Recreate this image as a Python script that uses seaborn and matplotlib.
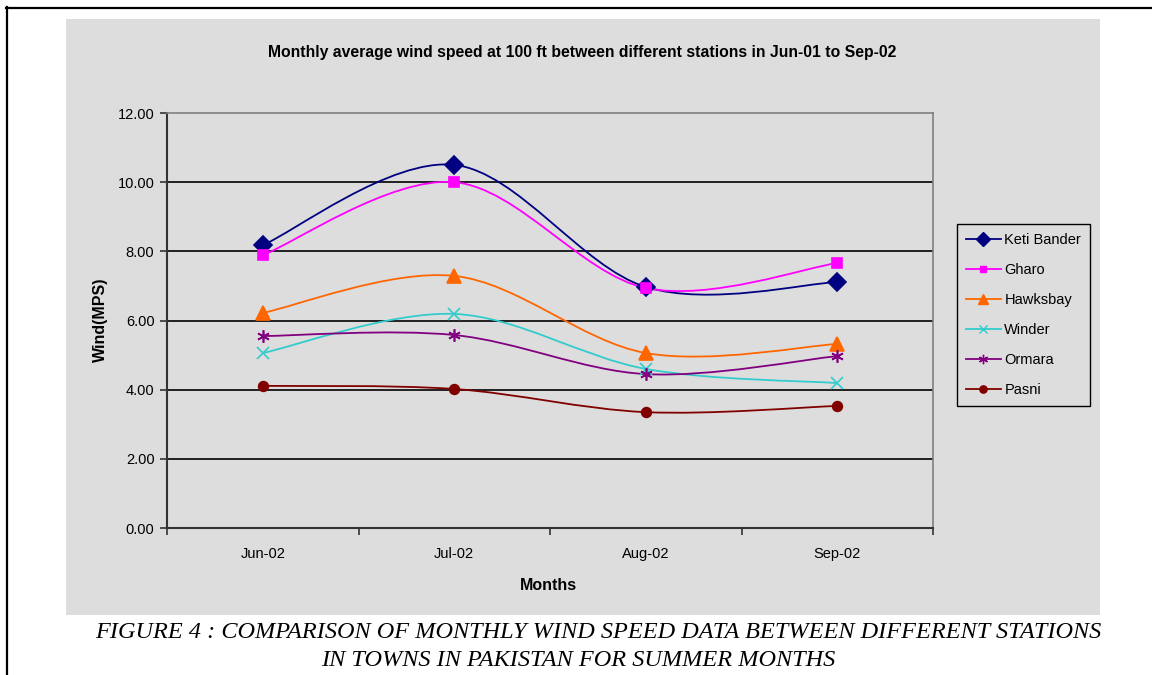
import matplotlib
matplotlib.use("Agg")
import matplotlib.pyplot as plt
from matplotlib.path import Path
from matplotlib.patches import PathPatch, Rectangle
from matplotlib.lines import Line2D
import seaborn as sns
import pandas as pd
import numpy as np

months = ["Jun-02", "Jul-02", "Aug-02", "Sep-02"]
keti_bander = [8.18, 10.50, 6.97, 7.11]
gharo = [7.89, 10.00, 6.94, 7.66]
hawksbay = [6.22, 7.29, 5.06, 5.32]
winder = [5.06, 6.19, 4.60, 4.19]
ormara = [5.55, 5.58, 4.45, 4.97]
pasni = [4.11, 4.02, 3.35, 3.53]
stations = ["Keti Bander", "Gharo", "Hawksbay", "Winder", "Ormara", "Pasni"]
yticks = [0, 2, 4, 6, 8, 10, 12]

series = [keti_bander, gharo, hawksbay, winder, ormara, pasni]
colors = ["#000080", "#FF00FF", "#FF6600", "#33CCCC", "#800080", "#800000"]
markers = ["D", "s", "^", "x", (6, 2, 0), "o"]
msizes = [9.5, 6.5, 10, 8.5, 9, 7]

rows = []
for name, vals in zip(stations, series):
    for i, (m, v) in enumerate(zip(months, vals)):
        rows.append({"Station": name, "Month": m, "pos": i, "Wind": v})
df = pd.DataFrame(rows)

W, H = 1152, 675
fig = plt.figure(figsize=(W / 100, H / 100), dpi=100)
fig.patch.set_facecolor("white")

# grey chart area
fig.add_artist(Rectangle((66 / W, 1 - 615 / H), (1100 - 66) / W, (615 - 19) / H,
                         transform=fig.transFigure, facecolor="#DDDDDD",
                         edgecolor="none", zorder=0))
# page frame lines
fig.add_artist(Line2D([6 / W, 1.0], [1 - 7.5 / H, 1 - 7.5 / H], transform=fig.transFigure,
                      color="black", lw=1.6))
fig.add_artist(Line2D([6.5 / W, 6.5 / W], [1 - 7 / H, 0], transform=fig.transFigure,
                      color="black", lw=1.6))

ax = fig.add_axes([167 / W, 1 - 528 / H, (933 - 167) / W, (528 - 113) / H])
ax.set_facecolor("#DDDDDD")
ax.set_xlim(-0.5, 3.5)
ax.set_ylim(0, 12)

for yv in yticks[1:-1]:
    ax.axhline(yv, color="black", lw=1.2, zorder=1)

def smooth_path(xs, ys):
    pts = np.column_stack([xs, ys]).astype(float)
    n = len(pts)
    verts = [pts[0]]
    codes = [Path.MOVETO]
    for i in range(n - 1):
        p0 = pts[i - 1] if i > 0 else pts[i]
        p1 = pts[i]
        p2 = pts[i + 1]
        p3 = pts[i + 2] if i + 2 < n else pts[i + 1]
        c1 = p1 + (p2 - p0) / 6.0
        c2 = p2 - (p3 - p1) / 6.0
        verts += [c1, c2, p2]
        codes += [Path.CURVE4] * 3
    return Path(verts, codes)

handles = []
for name, vals, c, mk, ms in zip(stations, series, colors, markers, msizes):
    sub = df[df["Station"] == name]
    ax.add_patch(PathPatch(smooth_path(sub["pos"].values, sub["Wind"].values),
                           facecolor="none", edgecolor=c, lw=1.3, zorder=3))
    sns.lineplot(data=sub, x="pos", y="Wind", ax=ax, color=c, marker=mk,
                 markersize=ms, linestyle="", markeredgecolor=c,
                 markeredgewidth=1.2, legend=False, zorder=4)
    handles.append(Line2D([0], [0], color=c, lw=1.3, marker=mk,
                          markersize=ms * 0.75, markeredgecolor=c,
                          markeredgewidth=1.0, label=name))

ax.set_xticks(range(len(months)))
ax.set_xticklabels(months)
ax.set_xticks([-0.5, 0.5, 1.5, 2.5, 3.5], minor=True)
ax.tick_params(axis="x", which="major", length=0, pad=14, labelsize=10.5)
ax.tick_params(axis="x", which="minor", length=5, width=1.2, color="#333333", direction="out")
ax.set_yticks(yticks)
ax.set_yticklabels([f"{v:.2f}" for v in yticks])
ax.tick_params(axis="y", length=5, width=1.2, color="#333333", direction="out", labelsize=10.5, pad=4)
for t in ax.get_xticklabels() + ax.get_yticklabels():
    t.set_fontfamily("Liberation Sans")

for s in ["left", "bottom"]:
    ax.spines[s].set_color("#333333")
    ax.spines[s].set_linewidth(1.5)
for s in ["top", "right"]:
    ax.spines[s].set_color("#808080")
    ax.spines[s].set_linewidth(1.2)
ax.set_xlabel("")
ax.set_ylabel("")

fig.text(582 / W, 1 - 53 / H,
         "Monthly average wind speed at 100 ft between different stations in Jun-01 to Sep-02",
         ha="center", va="center", fontsize=11.3, fontweight="bold", family="Liberation Sans")
fig.text(100 / W, 1 - 320 / H, "Wind(MPS)", rotation=90, ha="center", va="center",
         fontsize=11.5, fontweight="bold", family="Liberation Sans")
fig.text(548 / W, 1 - 585 / H, "Months", ha="center", va="center",
         fontsize=11.5, fontweight="bold", family="Liberation Sans")

leg = fig.legend(handles=handles, loc="upper left",
                 bbox_to_anchor=(957 / W, 1 - 224 / H), bbox_transform=fig.transFigure,
                 frameon=True, fancybox=False, edgecolor="black", facecolor="#DDDDDD",
                 framealpha=1, prop={"family": "Liberation Sans", "size": 10.5},
                 handlelength=2.4, handletextpad=0.25, labelspacing=1.1,
                 borderpad=0.6, borderaxespad=0)
leg.get_frame().set_linewidth(1.0)

fig.text(598 / W, 1 - 633 / H,
         "FIGURE 4 : COMPARISON OF MONTHLY WIND SPEED DATA BETWEEN DIFFERENT STATIONS",
         ha="center", va="center", fontsize=17.5, style="italic", family="Liberation Serif")
fig.text(578 / W, 1 - 660 / H,
         "IN TOWNS IN PAKISTAN FOR SUMMER MONTHS",
         ha="center", va="center", fontsize=17.5, style="italic", family="Liberation Serif")

fig.savefig("out.png", dpi=100)
